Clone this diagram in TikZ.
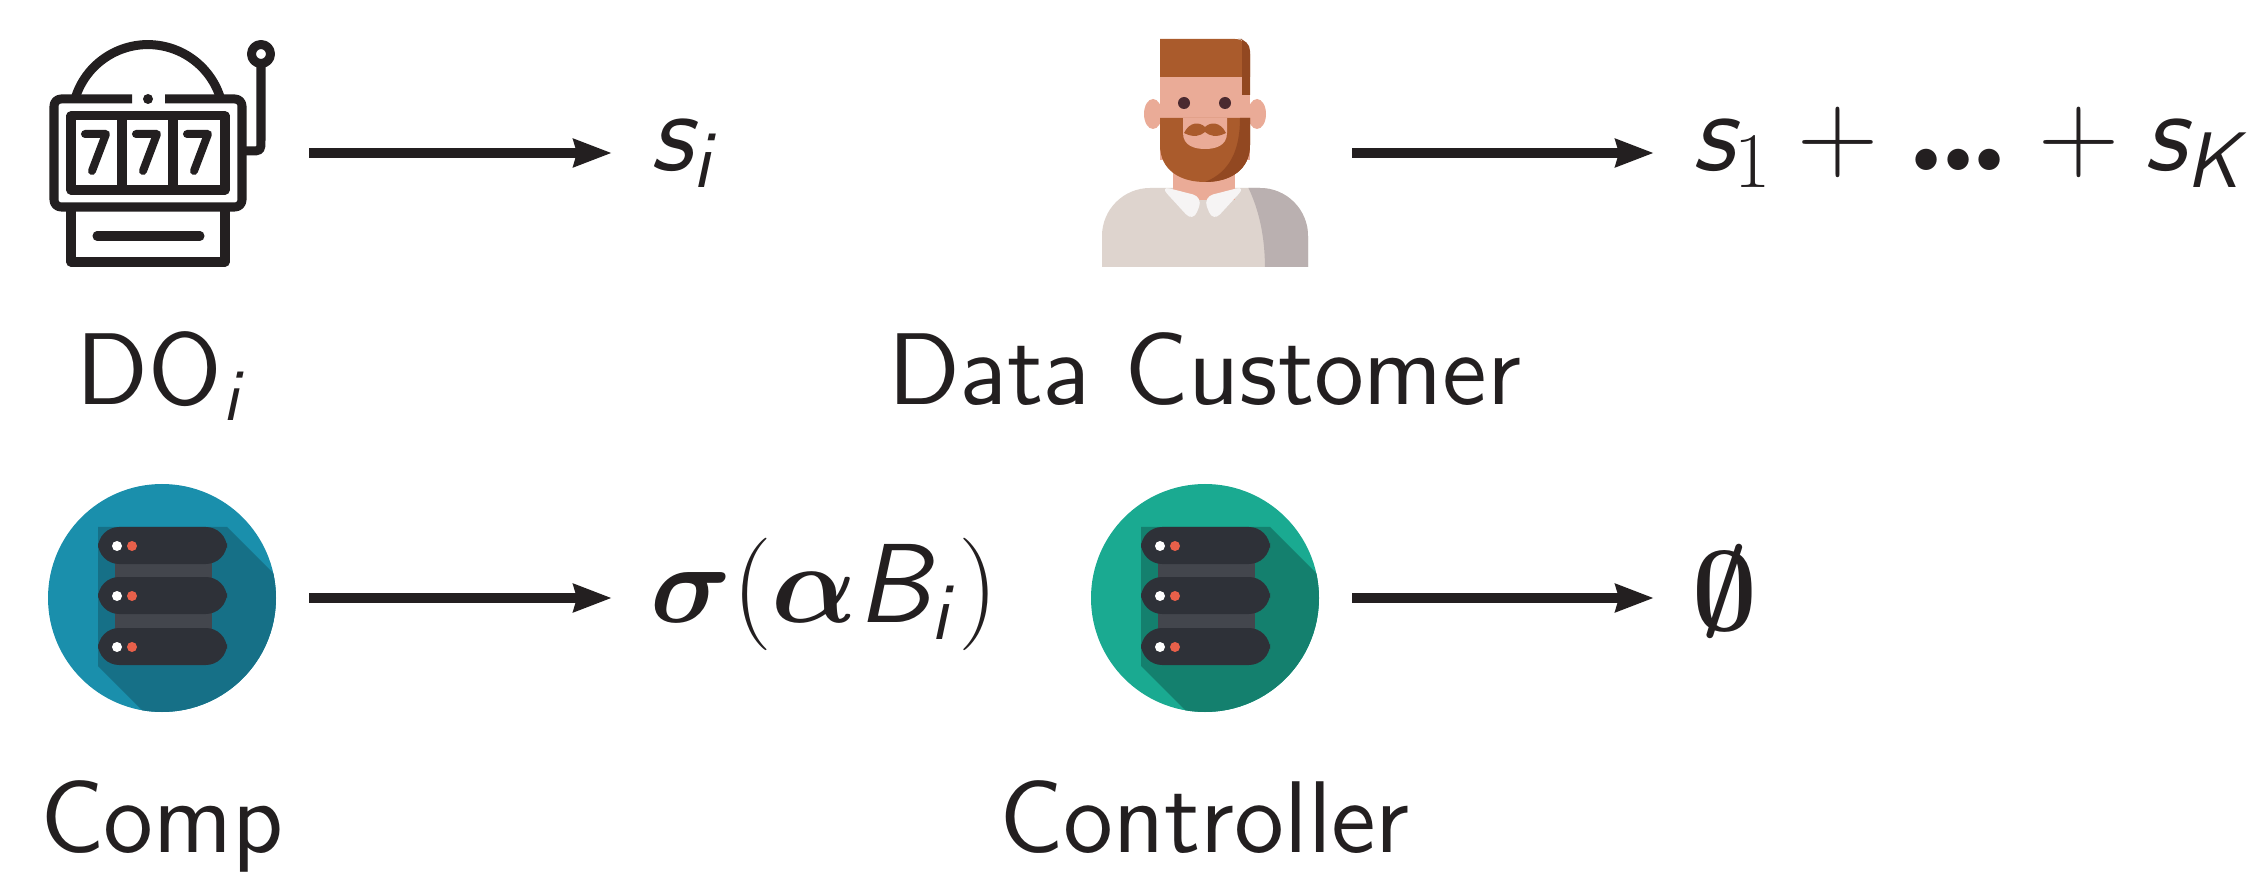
\documentclass[tikz,border=0pt]{standalone}
\usepackage{fix-cm}
\usepackage{amsmath}
\usetikzlibrary{arrows.meta,positioning}

% sans faces at the 12pt design size, scaled freely
\DeclareFontFamily{OT1}{cmsstw}{}
\DeclareFontShape{OT1}{cmsstw}{m}{n}{<-> cmss12}{}
\DeclareFontShape{OT1}{cmsstw}{m}{sl}{<-> cmssi12}{}
\DeclareMathAlphabet{\mathsfit}{OT1}{cmsstw}{m}{sl}
\newcommand{\labelfont}{\fontencoding{OT1}\fontfamily{cmsstw}\fontsize{29}{34}\selectfont}
\newcommand{\heavydots}{\text{\fontsize{42}{42}\selectfont\bfseries .\kern-0.1em.\kern-0.1em.}}

\definecolor{ink}{RGB}{35,31,32}
\definecolor{hair}{RGB}{170,91,44}
\definecolor{hairdark}{RGB}{146,72,33}
\definecolor{skin}{RGB}{234,171,151}
\definecolor{eye}{RGB}{75,42,48}
\definecolor{shirt}{RGB}{222,212,206}
\definecolor{shirtdark}{RGB}{186,176,176}
\definecolor{collar}{RGB}{246,244,244}
\definecolor{compblue}{RGB}{26,143,172}
\definecolor{compshade}{RGB}{22,112,135}
\definecolor{ctrlgreen}{RGB}{26,170,145}
\definecolor{ctrlshade}{RGB}{20,128,110}
\definecolor{rack}{RGB}{46,49,56}
\definecolor{spine}{RGB}{67,70,77}
\definecolor{ledred}{RGB}{232,96,74}

\tikzset{
  icon/.style={minimum size=2.28cm, inner sep=0, outer sep=0},
  lbl/.style={font=\labelfont, text=ink, inner sep=0, anchor=base},
  val/.style={font=\fontsize{32}{37}\selectfont, text=ink, inner sep=0, anchor=base west},
  flow/.style={draw=ink, line width=0.1cm, shorten <=0.33cm, shorten >=0.38cm,
    -{Stealth[length=0.38cm, width=0.27cm, inset=0.03cm]}},
  outline/.style={draw=ink, line width=0.09cm, line join=round}
}

\begin{document}
\begin{tikzpicture}[x=0.01cm, y=-0.01cm]
  \fill[white] (0,0) rectangle (2250,873);
  \useasboundingbox (0,0) rectangle (2250,873);

  % icon slots
  \node[icon] (slot) at (162,153) {};
  \node[icon] (buyer) at (1205,153) {};
  \node[icon] (comp) at (162,598) {};
  \node[icon] (ctrl) at (1205,598) {};

  % slot machine
  \draw[outline] (75,99) arc[start angle=196.5, end angle=343.5, radius=76];
  \draw[outline, rounded corners=2] (132,99) -- (54,99) -- (54,207) -- (242,207) -- (242,99) -- (165,99);
  \fill[ink] (148,99) circle[radius=5];
  \draw[outline] (71,116) rectangle (225,190);
  \draw[outline] (122,116) -- (122,190) (173,116) -- (173,190);
  \foreach \dx in {0,51,102}{
    \draw[outline, line width=0.08cm, line cap=round] (85+\dx,134) -- (106+\dx,134) -- (92+\dx,171);
  }
  \draw[outline] (71,207) -- (71,262) -- (225,262) -- (225,207);
  \draw[outline, line cap=round] (97,236) -- (200,236);
  \draw[outline] (242,151) -- (250,151) .. controls (261,151) .. (261,140) -- (261,64);
  \draw[outline] (261,54) circle[radius=9.5];

  % data customer
  \fill[shirt] (1102,267) -- (1102,236) arc[start angle=180, end angle=270, radius=48]
    -- (1260,188) arc[start angle=270, end angle=360, radius=48] -- (1308,267) -- cycle;
  \begin{scope}
    \clip (1102,267) -- (1102,236) arc[start angle=180, end angle=270, radius=48]
      -- (1260,188) arc[start angle=270, end angle=360, radius=48] -- (1308,267) -- cycle;
    \fill[shirtdark] (1247,185) .. controls (1262,215) and (1265,245) .. (1265,270) -- (1312,270) -- (1312,185) -- cycle;
  \end{scope}
  \fill[skin] (1173,165) rectangle (1235,200);
  \fill[collar, rounded corners=3] (1160,186) -- (1203,197) -- (1193,222) -- cycle;
  \fill[collar, rounded corners=3] (1246,186) -- (1203,197) -- (1213,222) -- cycle;
  \fill[skin] (1153,114) ellipse[x radius=9, y radius=15];
  \fill[skin] (1257,114) ellipse[x radius=9, y radius=15];
  \fill[skin] (1160,70) rectangle (1250,160);
  \fill[hair] (1160,39) -- (1235,39) arc[start angle=270, end angle=360, radius=15] -- (1250,77) -- (1160,77) -- cycle;
  \fill[hairdark] (1238,39) arc[start angle=270, end angle=360, radius=12] -- (1250,95) -- (1242,95) -- (1242,39) -- cycle;
  \fill[hair] (1160,118) -- (1160,145) .. controls (1160,170) and (1180,182) .. (1205,182)
    .. controls (1230,182) and (1250,170) .. (1250,145) -- (1250,118) -- cycle;
  \fill[hairdark] (1250,118) -- (1250,145) .. controls (1250,170) and (1230,182) .. (1205,182)
    .. controls (1230,172) and (1240,150) .. (1240,118) -- cycle;
  \fill[skin] (1183,118) -- (1183,133) .. controls (1183,146) and (1195,149) .. (1205,149)
    .. controls (1215,149) and (1227,146) .. (1227,133) -- (1227,118) -- cycle;
  \fill[hair] (1184,133) .. controls (1190,121) and (1200,122) .. (1205,127)
    .. controls (1210,122) and (1220,121) .. (1226,133)
    .. controls (1216,138) and (1210,136) .. (1205,132)
    .. controls (1200,136) and (1194,138) .. cycle;
  \fill[eye] (1184,103) circle[radius=6];
  \fill[eye] (1225,103) circle[radius=6];

  % server icons
  \foreach \cx/\base/\shade in {162/compblue/compshade, 1205/ctrlgreen/ctrlshade}{
    \fill[\base] (\cx,598) circle[radius=114];
    \begin{scope}
      \clip (\cx,598) circle[radius=114];
      \fill[\shade] (\cx-64,527) -- (\cx+65,527) -- ++(300,300) -- ++(0,139) -- ++(-129,0) -- (\cx-64,666) -- cycle;
    \end{scope}
    \fill[spine] (\cx-47,540) rectangle (\cx+50,655);
    \foreach \y in {527,577,628}{
      \fill[rack, rounded corners=6] (\cx-64,\y) rectangle (\cx+65,\y+37);
      \fill[white] (\cx-45,\y+19) circle[radius=5];
      \fill[ledred] (\cx-30,\y+19) circle[radius=5];
    }
  }

  % labels
  \node[lbl] (do-lbl) at (162,405) {DO$_{\mathsfit{i}}$};
  \node[lbl] (cust-lbl) at (1205,405) {Data Customer};
  \node[lbl] (comp-lbl) at (162,852) {Comp};
  \node[lbl] (ctrl-lbl) at (1205,852) {Controller};

  % what each party sees
  \node[val] (si) at (650,171) {$\mathsfit{s}_{\mathsfit{i}}$};
  \node[val] (sum) at (1692,171) {$\mathsfit{s}_1+\heavydots+\mathsfit{s}_{\mathsfit{K}}$};
  \node[val] (sig) at (650,623) {$\boldsymbol{\sigma}(\boldsymbol{\alpha}\mathsfit{B}_{\mathsfit{i}})$};
  \node[val] (none) at (1692,630) {$\boldsymbol{\emptyset}$};

  \draw[flow] (slot.east) -- (slot.east -| si.west);
  \draw[flow] (buyer.east) -- (buyer.east -| sum.west);
  \draw[flow] (comp.east) -- (comp.east -| sig.west);
  \draw[flow] (ctrl.east) -- (ctrl.east -| none.west);
\end{tikzpicture}
\end{document}
